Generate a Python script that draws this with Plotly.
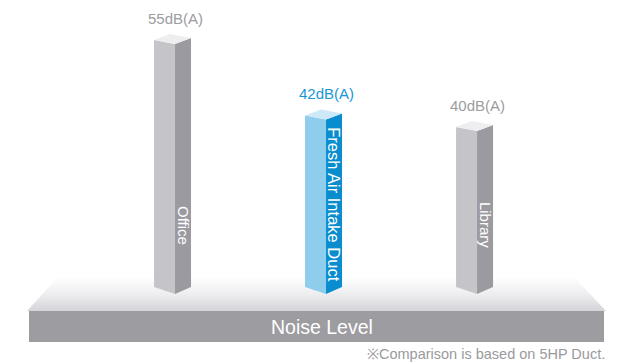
import plotly.graph_objects as go

# ---- data ----
categories = ["Office", "Fresh Air Intake Duct", "Library"]
noise_db = [55, 42, 40]
value_labels = ["55dB(A)", "42dB(A)", "40dB(A)"]
highlight = [False, True, False]
axis_title = "Noise Level"
footnote = "※Comparison is based on 5HP Duct."

# ---- layout / geometry (pixel based styling) ----
W, H = 627, 364
XR = [-1.159, 2.993]
YR = [-0.17, 62.59]
PX = (XR[1] - XR[0]) / W   # x data units per pixel
PY = (YR[1] - YR[0]) / H   # y data units per pixel
BASE_DB = 11.9             # axis value where the bars stand

def X(px):
    return XR[0] + px * PX

def Y(py):
    return YR[1] - py * PY

LEFT_W, RIGHT_W = 21, 16
TOP_L_RISE, TOP_R_RISE, BOT_RISE = 4, 6, 7

FONT = "Liberation Sans, Arial"
gray = dict(left="#c5c5c9", right="#9b9aa0", top="#eeeef0", label="#9c9c9f")
blue = dict(left="#8fcdec", right="#0a8dcf", top="#cde8f6", label="#1897d6")

fig = go.Figure()

# floor (perspective platform with a vertical gradient)
fx = [X(58), X(574), X(606), X(27), X(58)]
fy = [Y(277), Y(277), Y(311), Y(311), Y(277)]
fig.add_trace(go.Scatter(
    x=fx, y=fy, mode="lines", line=dict(width=0), fill="toself",
    fillgradient=dict(type="vertical",
                      colorscale=[[0, "#d4d4d9"], [0.45, "#ececef"], [1, "#ffffff"]]),
    hoverinfo="skip", showlegend=False))

annotations = []
for i, (cat, v, lab, hl) in enumerate(zip(categories, noise_db, value_labels, highlight)):
    c = blue if hl else gray
    xl, xf, xr = i - LEFT_W * PX, i, i + RIGHT_W * PX
    top_f = v
    top_l = v + TOP_L_RISE * PY
    top_r = v + TOP_R_RISE * PY
    top_b = v + (TOP_L_RISE + TOP_R_RISE) * PY
    bot_f = BASE_DB
    bot_s = BASE_DB + BOT_RISE * PY
    # left face
    fig.add_trace(go.Scatter(x=[xl, xf, xf, xl, xl], y=[top_l, top_f, bot_f, bot_s, top_l],
                             mode="lines", line=dict(width=0), fill="toself",
                             fillcolor=c["left"], hoverinfo="skip", showlegend=False))
    # right face
    fig.add_trace(go.Scatter(x=[xf, xr, xr, xf, xf], y=[top_f, top_r, bot_s, bot_f, top_f],
                             mode="lines", line=dict(width=0), fill="toself",
                             fillcolor=c["right"], hoverinfo="skip", showlegend=False))
    # top cap
    xb = xl + RIGHT_W * PX
    fig.add_trace(go.Scatter(x=[xl, xb, xr, xf, xl], y=[top_l, top_b, top_r, top_f, top_l],
                             mode="lines", line=dict(width=0), fill="toself",
                             fillcolor=c["top"], hoverinfo="skip", showlegend=False))
    # value label
    annotations.append(dict(x=i, y=v, yshift=26, text=lab, showarrow=False,
                            font=dict(family=FONT, size=15, color=c["label"])))
    # category label on the right face (reading top-to-bottom)
    xc = i + RIGHT_W * PX / 2
    if len(cat) > 10:
        annotations.append(dict(x=xc, y=v - 1.0, yanchor="top", text=cat, textangle=90,
                                showarrow=False,
                                font=dict(family=FONT, size=16.5, color="white")))
    else:
        annotations.append(dict(x=xc, y=23.8, text=cat, textangle=90, showarrow=False,
                                font=dict(family=FONT, size=15, color="white")))

# axis title band
shapes = [dict(type="rect", xref="paper", yref="paper",
               x0=29 / W, x1=604 / W, y0=1 - 342 / H, y1=1 - 311 / H,
               fillcolor="#9d9ca1", line=dict(width=0), layer="below")]
annotations.append(dict(xref="paper", yref="paper", x=322 / W, y=1 - 326.5 / H,
                        xanchor="center", yanchor="middle",
                        text=axis_title, showarrow=False,
                        font=dict(family=FONT, size=19.5, color="white")))
annotations.append(dict(xref="paper", yref="paper", x=607 / W, y=1 - 354 / H,
                        xanchor="right", yanchor="middle", text=footnote, showarrow=False,
                        font=dict(family=FONT, size=14.5, color="#9a9a9d")))

fig.update_layout(
    width=W, height=H, margin=dict(l=0, r=0, t=0, b=0),
    paper_bgcolor="white", plot_bgcolor="white",
    xaxis=dict(range=XR, visible=False, fixedrange=True),
    yaxis=dict(range=YR, visible=False, fixedrange=True),
    shapes=shapes, annotations=annotations, showlegend=False,
)

fig.write_html("out.html", config={"displayModeBar": False},
               post_script="document.body.style.margin='0';document.body.style.padding='0';")
